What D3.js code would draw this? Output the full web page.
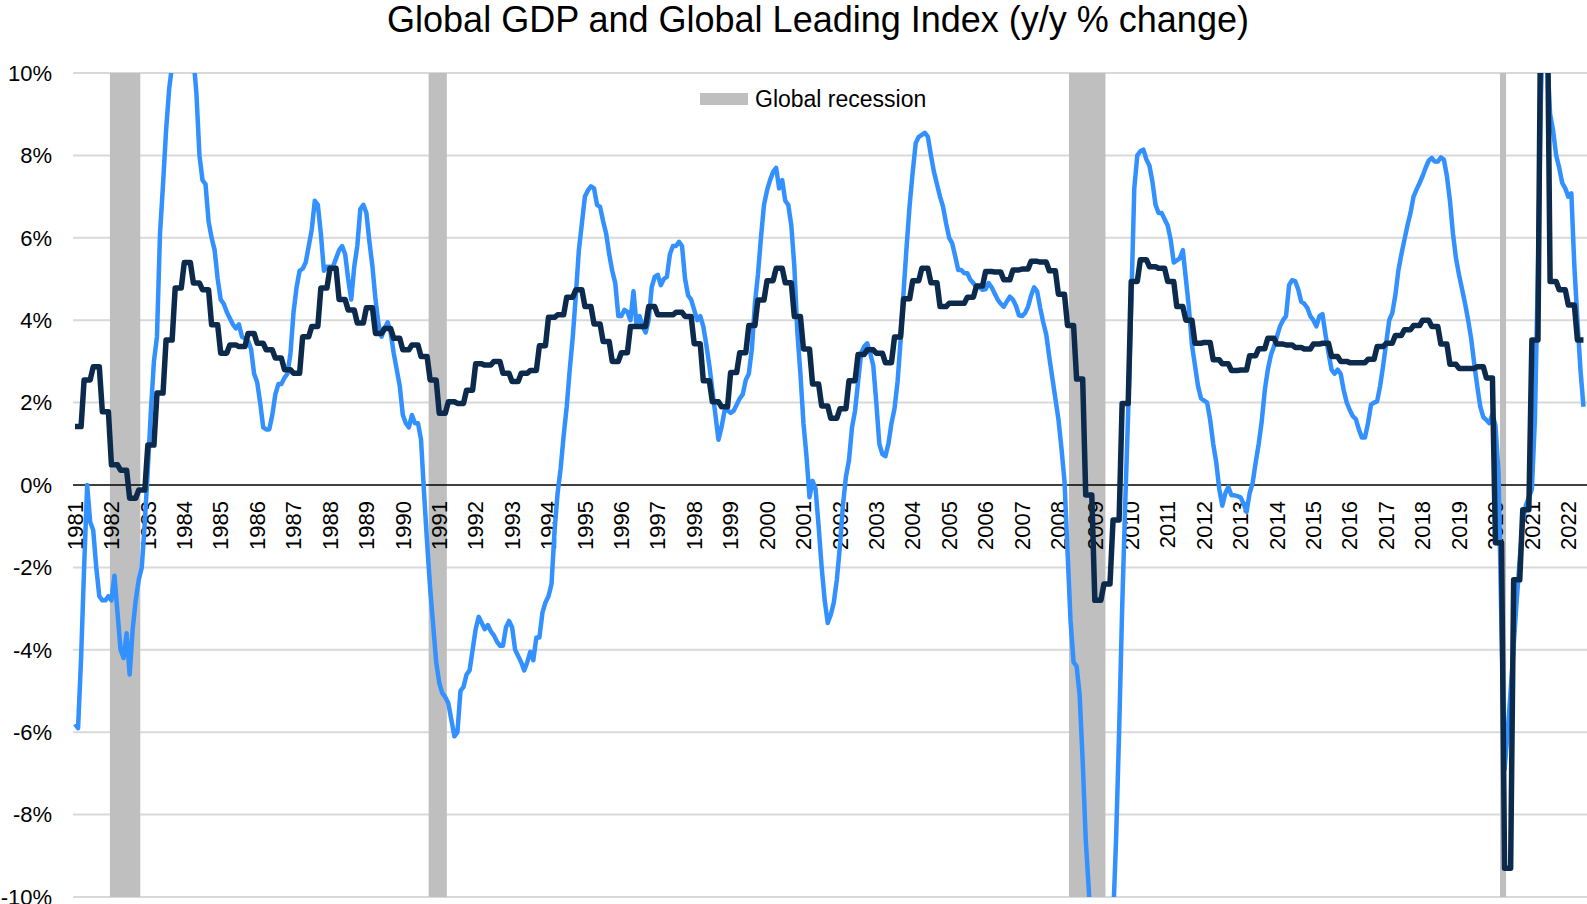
<!DOCTYPE html>
<html>
<head>
<meta charset="utf-8">
<script src="https://cdnjs.cloudflare.com/ajax/libs/d3/7.8.5/d3.min.js"></script>
<style>
body { margin:0; background:#fff; }
svg { display:block; font-family:"Liberation Sans", Arial, sans-serif; }
</style>
</head>
<body>
<svg id="chart" width="1587" height="904"></svg>
<script>
// year tick labels (placed on January of each year)
var yearTicks = [1981,1982,1983,1984,1985,1986,1987,1988,1989,1990,1991,1992,1993,1994,
  1995,1996,1997,1998,1999,2000,2001,2002,2003,2004,2005,2006,2007,2008,2009,2010,
  2011,2012,2013,2014,2015,2016,2017,2018,2019,2020,2021,2022]
var yTicks = [-10,-8,-6,-4,-2,0,2,4,6,8,10]

// global recessions, first and last month
var recessions = [["1982-01","1982-10"],["1990-10","1991-03"],["2008-05","2009-04"],["2020-03","2020-04"]]

// Global Leading Index, y/y %, monthly Jan 1981 - Jun 2022
var leadingIndex = [
  -5.8,-5.9,-4.2,-2.0,0.0,-0.9,-1.1,-2.0,-2.7,-2.8,-2.8,-2.7,        //1981
  -2.8,-2.2,-3.1,-4.0,-4.2,-3.6,-4.6,-3.5,-2.8,-2.3,-2.0,-0.9,       //1982
  0.4,1.8,3.0,3.6,6.1,7.3,8.6,9.6,10.2,11.0,11.6,12.0,               //1983
  12.0,11.6,11.0,10.4,9.5,8.0,7.4,7.3,6.4,6.0,5.7,5.0,               //1984
  4.5,4.4,4.2,4.05,3.9,3.8,3.9,3.6,3.55,3.5,3.3,2.7,                 //1985
  2.5,2.0,1.4,1.35,1.35,1.7,2.2,2.45,2.45,2.6,2.7,3.2,               //1986
  4.2,4.8,5.2,5.25,5.4,5.8,6.2,6.9,6.8,6.1,5.2,5.3,                  //1987
  5.3,5.3,5.5,5.7,5.8,5.6,5.0,4.5,5.3,5.8,6.7,6.8,                   //1988
  6.6,5.9,5.3,4.5,3.9,3.6,3.8,3.95,3.7,3.2,2.8,2.4,                  //1989
  1.7,1.5,1.4,1.7,1.5,1.5,1.1,-0.2,-1.4,-2.5,-3.4,-4.3,              //1990
  -4.8,-5.05,-5.15,-5.3,-5.7,-6.1,-6.0,-5.0,-4.9,-4.6,-4.5,-4.0,     //1991
  -3.5,-3.2,-3.35,-3.5,-3.4,-3.55,-3.65,-3.8,-3.9,-3.9,-3.45,-3.3,   //1992
  -3.45,-4.0,-4.15,-4.3,-4.5,-4.3,-4.05,-4.25,-3.7,-3.7,-3.1,-2.85,  //1993
  -2.7,-2.4,-1.1,-0.2,0.4,1.2,1.9,2.8,3.6,4.6,5.7,6.35,              //1994
  7.0,7.15,7.25,7.2,6.8,6.75,6.4,6.1,5.6,5.2,4.9,4.1,                //1995
  4.1,4.25,4.2,4.0,4.7,3.9,4.1,3.85,3.7,4.0,4.8,5.05,                //1996
  5.1,4.85,5.0,5.05,5.6,5.8,5.8,5.9,5.8,5.0,4.6,4.5,                 //1997
  4.25,4.0,4.1,3.85,3.4,2.9,2.3,1.7,1.1,1.4,1.8,1.82,                //1998
  1.75,1.8,1.95,2.1,2.2,2.55,2.7,3.3,4.4,5.1,6.0,6.8,                //1999
  7.15,7.4,7.6,7.7,7.2,7.4,6.9,6.8,6.3,5.3,3.7,2.7,                  //2000
  1.5,0.7,-0.3,0.1,-0.1,-1.0,-2.0,-2.8,-3.35,-3.15,-2.85,-2.3,       //2001
  -1.5,-0.5,0.2,0.6,1.4,1.8,2.5,3.2,3.36,3.44,3.2,2.9,               //2002
  2.0,1.0,0.75,0.7,1.0,1.5,1.85,2.5,3.5,4.7,5.8,6.8,                 //2003
  7.6,8.3,8.45,8.5,8.55,8.45,8.0,7.6,7.3,7.0,6.75,6.35,              //2004
  6.0,5.87,5.55,5.22,5.22,5.14,5.14,4.98,4.9,4.8,4.8,4.74,           //2005
  4.75,4.9,4.8,4.65,4.5,4.4,4.33,4.45,4.57,4.5,4.35,4.12,            //2006
  4.1,4.17,4.33,4.6,4.8,4.7,4.3,3.95,3.65,3.1,2.6,2.1,               //2007
  1.6,0.9,0.1,-1.6,-3.3,-4.3,-4.4,-5.1,-6.7,-8.6,-9.8,-11.3,         //2008
  -12.6,-13.5,-14.0,-14.0,-13.6,-12.6,-10.6,-8.6,-6.0,-3.0,-0.5,1.8, //2009
  4.4,7.2,8.0,8.1,8.14,7.9,7.75,7.35,6.8,6.6,6.6,6.45,               //2010
  6.3,5.95,5.4,5.45,5.5,5.7,5.0,4.3,3.4,2.9,2.4,2.1,                 //2011
  2.05,2.0,1.58,1.0,0.55,-0.1,-0.5,-0.2,-0.05,-0.25,-0.25,-0.27,     //2012
  -0.3,-0.45,-0.65,-0.2,0.05,0.55,1.0,1.55,2.3,2.8,3.15,3.36,        //2013
  3.6,3.85,4.0,4.1,4.85,4.97,4.95,4.75,4.45,4.4,4.3,4.1,             //2014
  4.0,3.85,4.1,4.15,3.65,3.2,2.8,2.7,2.8,2.7,2.3,2.0,                //2015
  1.82,1.67,1.6,1.35,1.15,1.15,1.5,1.95,2.0,2.03,2.4,2.9,            //2016
  3.45,4.0,4.17,4.6,5.2,5.6,5.95,6.3,6.6,7.0,7.17,7.33,              //2017
  7.5,7.7,7.87,7.94,7.85,7.85,7.95,7.9,7.5,6.9,6.1,5.5,              //2018
  5.1,4.75,4.4,4.0,3.55,2.95,2.4,1.9,1.65,1.58,1.5,1.72,             //2019
  1.45,0.3,-3.5,-6.9,-6.0,-5.0,-3.9,-2.8,-1.8,-0.9,-0.5,-0.3,        //2020
  -0.1,1.6,5.2,9.5,12.0,10.5,9.0,8.6,8.0,7.7,7.33,7.2,               //2021
  7.0,7.08,5.3,4.0,2.8,1.9                                           //2022
]

// Global GDP, y/y %, quarterly Q1 1981 - Q2 2022
var gdpQuarterly = [
  1.42,2.55,2.87,1.78,   0.49,0.36,-0.32,-0.12,  0.97,2.23,3.52,4.78,   5.4,4.9,4.74,3.89,
  3.2,3.4,3.36,3.68,     3.44,3.28,3.08,2.8,     2.71,3.6,3.85,4.78,    5.26,4.5,4.25,3.93,
  4.3,3.68,3.8,3.56,     3.28,3.4,3.12,2.55,     1.74,2.02,1.98,2.3,    2.94,2.91,3.0,2.71,
  2.51,2.71,2.78,3.38,   4.07,4.13,4.56,4.74,    4.33,3.91,3.48,3.0,    3.21,3.85,3.85,4.33,
  4.13,4.13,4.19,4.09,   3.43,2.53,2.02,1.9,     2.73,3.21,3.87,4.49,   4.96,5.26,4.91,4.09,
  3.3,2.45,1.92,1.62,    1.85,2.53,3.17,3.28,    3.2,2.97,3.59,4.52,    4.96,5.26,4.91,4.33,
  4.41,4.41,4.56,4.83,   5.18,5.17,4.98,5.22,    5.24,5.43,5.41,5.2,    4.63,3.87,2.57,-0.24,
  -2.8,-2.4,-0.85,1.98,  4.94,5.47,5.3,5.26,     4.94,4.33,4.0,3.44,    3.46,3.04,2.94,2.78,
  2.79,3.14,3.31,3.56,   3.42,3.4,3.34,3.3,      3.42,3.44,3.12,3.0,    2.97,2.97,3.05,3.36,
  3.44,3.63,3.77,3.87,   4.0,3.85,3.42,2.93,     2.83,2.83,2.87,2.6,    -1.4,-9.3,-2.3,-0.6,
  3.52,12.5,4.94,4.74,   4.37,3.52
]

var width = 1587, height = 904
var plotTop = 73, plotBottom = 897, plotLeft = 73.5, plotRight = 1585

var months = []
for (var yr = 1981; yr <= 2022; yr++){
  for (var mo = 1; mo <= 12; mo++){
    if (yr == 2022 && mo > 6) break
    months.push(yr + "-" + (mo < 10 ? "0" : "") + mo)
  }
}

var x = d3.scaleBand().domain(months).range([plotLeft, plotRight]).padding(0)
var cx = function(m){ return x(m) + x.bandwidth()/2 }
var y = d3.scaleLinear().domain([-10, 10]).range([plotBottom, plotTop])

var leadData = leadingIndex.map(function(v, i){ return {m: months[i], v: v} })
// quarterly GDP held for the three months of each quarter
var gdpData = []
gdpQuarterly.forEach(function(v, q){
  for (var k = 0; k < 3; k++){
    var i = q*3 + k
    if (i < months.length) gdpData.push({m: months[i], v: v})
  }
})

var svg = d3.select("#chart")

svg.append("defs").append("clipPath").attr("id", "plotclip")
  .append("rect").attr("x", 70).attr("y", plotTop).attr("width", width - 70).attr("height", plotBottom - plotTop)

// gridlines
svg.append("g").selectAll("line.grid")
    .data(yTicks.filter(function(d){ return d != 0 }))
  .enter().append("line")
    .attr("x1", 73).attr("x2", width)
    .attr("y1", function(d){ return y(d) }).attr("y2", function(d){ return y(d) })
    .attr("stroke", "#d9d9d9").attr("stroke-width", 2)

// recession bands
svg.append("g").selectAll("rect")
    .data(recessions)
  .enter().append("rect")
    .attr("x", function(d){ return x(d[0]) })
    .attr("width", function(d){ return x(d[1]) + x.bandwidth() - x(d[0]) })
    .attr("y", plotTop).attr("height", plotBottom - plotTop)
    .attr("fill", "#bfbfbf")

// zero line
svg.append("line")
  .attr("x1", 73).attr("x2", width)
  .attr("y1", y(0)).attr("y2", y(0))
  .attr("stroke", "#000").attr("stroke-width", 1.6)

// y labels
svg.append("g").selectAll("text")
    .data(yTicks)
  .enter().append("text")
    .attr("x", 52).attr("y", function(d){ return y(d) })
    .attr("dy", "0.35em")
    .attr("text-anchor", "end")
    .attr("font-size", 22)
    .attr("fill", "#000")
    .text(function(d){ return d + "%" })

// year labels, rotated
svg.append("g").selectAll("text")
    .data(yearTicks)
  .enter().append("text")
    .attr("transform", function(d){ return "translate(" + cx(d + "-01") + "," + 501 + ") rotate(-90)" })
    .attr("dy", "0.35em")
    .attr("text-anchor", "end")
    .attr("font-size", 22)
    .attr("fill", "#000")
    .text(function(d){ return d })

var line = d3.line()
  .x(function(d){ return cx(d.m) })
  .y(function(d){ return y(d.v) })

var lines = svg.append("g").attr("clip-path", "url(#plotclip)")
lines.append("path")
  .datum(leadData)
  .attr("d", line)
  .attr("fill", "none")
  .attr("stroke", "#3390ff")
  .attr("stroke-width", 4.5)
  .attr("stroke-linejoin", "round")
lines.append("path")
  .datum(gdpData)
  .attr("d", line)
  .attr("fill", "none")
  .attr("stroke", "#0c2a4c")
  .attr("stroke-width", 5.5)
  .attr("stroke-linejoin", "round")

// title
svg.append("text")
  .attr("x", 818).attr("y", 32)
  .attr("text-anchor", "middle")
  .attr("font-size", 36)
  .attr("fill", "#000")
  .text("Global GDP and Global Leading Index (y/y % change)")

// legend
svg.append("rect").attr("x", 700).attr("y", 93).attr("width", 48).attr("height", 12).attr("fill", "#bfbfbf")
svg.append("text").attr("x", 755).attr("y", 106.5).attr("font-size", 23).attr("fill", "#000").text("Global recession")
</script>
</body>
</html>
